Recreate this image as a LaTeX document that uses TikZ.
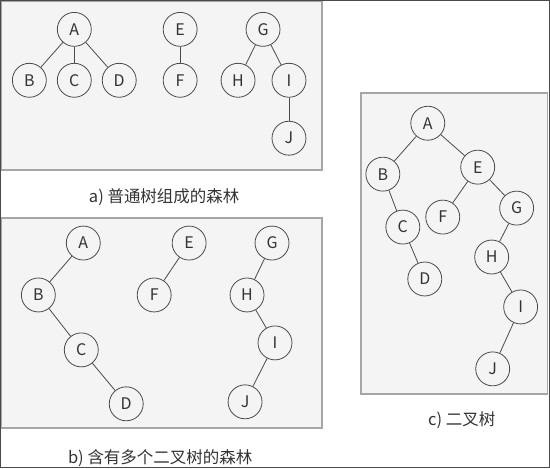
\documentclass[tikz,border=0pt]{standalone}
\usepackage{fontspec}
\setmainfont{Noto Sans CJK SC}
\usetikzlibrary{positioning}
\definecolor{panelfill}{HTML}{F4F4F4}
\definecolor{boxgray}{HTML}{A6A6A6}
\definecolor{linegray}{HTML}{4A4A4A}
\definecolor{textgray}{HTML}{333333}

\begin{document}
\begin{tikzpicture}[x=1pt,y=-1pt,
  vertex/.style={circle,draw=linegray,fill=panelfill,minimum size=34pt,inner sep=0pt,
    text=textgray,font=\fontsize{16}{16}\selectfont},
  caption/.style={text=textgray,font=\fontsize{16.5}{16.5}\selectfont},
  panel/.style={draw=boxgray,line width=1.6pt,fill=panelfill},
  every path/.style={draw=linegray,line width=0.8pt}]
\useasboundingbox (0,0) rectangle (550,468);
% panels
\draw[panel] (1,1) rectangle (322,170);
\draw[panel] (1,218) rectangle (322,428);
\draw[panel] (361,93) rectangle (548,394);

% a) forest of ordinary trees
\node[vertex] (aA) at (74,29) {A};
\node[vertex] (aB) at (29,80) {B};
\node[vertex] (aC) at (74,80) {C};
\node[vertex] (aD) at (119,80) {D};
\node[vertex] (aE) at (180,29) {E};
\node[vertex] (aF) at (180,80) {F};
\node[vertex] (aG) at (263,29) {G};
\node[vertex] (aH) at (238,80) {H};
\node[vertex] (aI) at (289,80) {I};
\node[vertex] (aJ) at (289,138) {J};
\draw (aA) -- (aB);
\draw (aA) -- (aC);
\draw (aA) -- (aD);
\draw (aE) -- (aF);
\draw (aG) -- (aH);
\draw (aG) -- (aI);
\draw (aI) -- (aJ);
\node[caption] (capa) at (164,197) {a) 普通树组成的森林};

% b) forest of binary trees
\node[vertex] (bA) at (83,243) {A};
\node[vertex] (bB) at (38,295) {B};
\node[vertex] (bC) at (81,350) {C};
\node[vertex] (bD) at (126,404) {D};
\node[vertex] (bE) at (189,243) {E};
\node[vertex] (bF) at (154,295) {F};
\node[vertex] (bG) at (272,243) {G};
\node[vertex] (bH) at (247,295) {H};
\node[vertex] (bI) at (275,343) {I};
\node[vertex] (bJ) at (245,402) {J};
\draw (bA) -- (bB);
\draw (bB) -- (bC);
\draw (bC) -- (bD);
\draw (bE) -- (bF);
\draw (bG) -- (bH);
\draw (bH) -- (bI);
\draw (bI) -- (bJ);
\node[caption] (capb) at (160,458) {b) 含有多个二叉树的森林};

% c) binary tree
\node[vertex] (cA) at (428,123) {A};
\node[vertex] (cB) at (383,174) {B};
\node[vertex] (cC) at (403,227) {C};
\node[vertex] (cD) at (425,279) {D};
\node[vertex] (cE) at (478,167) {E};
\node[vertex] (cF) at (443,217) {F};
\node[vertex] (cG) at (517,208) {G};
\node[vertex] (cH) at (492,257) {H};
\node[vertex] (cI) at (521,307) {I};
\node[vertex] (cJ) at (493,369) {J};
\draw (cA) -- (cB);
\draw (cB) -- (cC);
\draw (cC) -- (cD);
\draw (cA) -- (cE);
\draw (cE) -- (cF);
\draw (cE) -- (cG);
\draw (cG) -- (cH);
\draw (cH) -- (cI);
\draw (cI) -- (cJ);
\node[caption] (capc) at (462,420) {c) 二叉树};
\end{tikzpicture}
\end{document}
